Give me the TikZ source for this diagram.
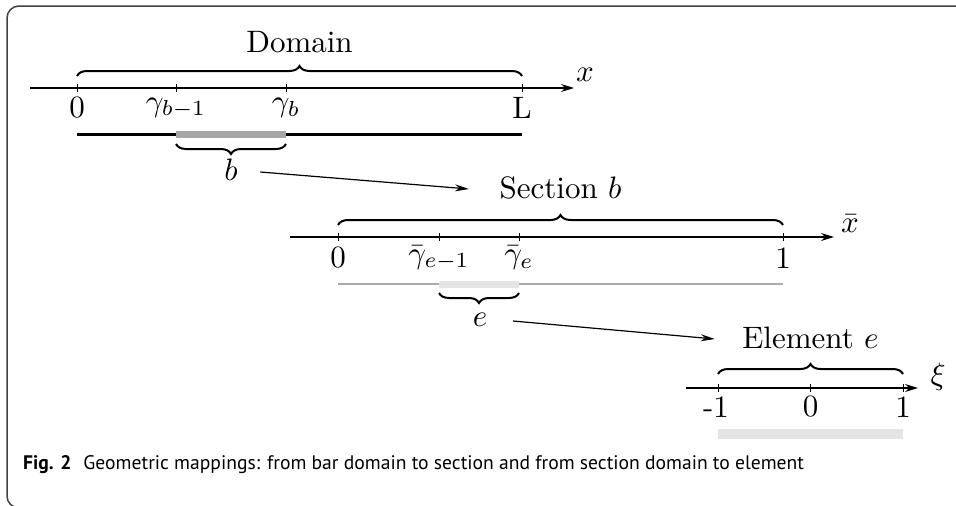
\documentclass[tikz,border=0pt]{standalone}
\usepackage{fontspec}
\newfontfamily\capfont{PT Sans}
\usetikzlibrary{arrows.meta,decorations.pathreplacing}
\begin{document}
\begin{tikzpicture}[x=1pt,y=1pt,
  axis/.style={line width=1.2pt,-{Stealth[length=13pt,width=8pt]}},
  tickmark/.style={line width=0.8pt},
  lbl/.style={font=\fontsize{10}{12}\selectfont,scale=3.1,transform shape,inner sep=0pt},
  brc/.style={decorate,decoration={brace,amplitude=10pt},line width=2pt},
  mapar/.style={line width=1.2pt,-{Stealth[length=14pt,width=7pt]}},
  frame/.style={draw=black!75,line width=1.5pt,rounded corners=12pt}
]
\useasboundingbox (0,0) rectangle (956,-506);
\begin{scope}
\clip (0,0) rectangle (956,-506);
\draw[frame] (970,-6) -- (7,-6) -- (7,-508) -- (40,-508);
\end{scope}

% ---------- Domain ----------
\coordinate (ds) at (30,-88);
\coordinate (de) at (574,-88);
\coordinate (d0) at (77,-88);
\coordinate (d1) at (176,-88);
\coordinate (d2) at (286,-88);
\coordinate (dL) at (522,-88);
\draw[axis] (ds) -- (de);
\node[lbl] (xlab) at (585,-75) {$x$};
\foreach \c in {d0,d1,d2,dL} \draw[tickmark] ([yshift=4pt]\c) -- ([yshift=-4pt]\c);
\node[lbl] (l0) at (77,-108) {0};
\node[lbl] (l1) at (176,-108) {$\gamma_{b-1}$};
\node[lbl] (l2) at (286,-108) {$\gamma_b$};
\node[lbl] (lL) at (522,-108) {L};
\draw[brc] ([yshift=12pt]d0) -- ([yshift=12pt]dL);
\node[lbl] (dom) at (299.5,-42) {Domain};
\coordinate (bar0) at (77,-134);
\coordinate (bar1) at (176,-134);
\coordinate (bar2) at (286,-134);
\coordinate (barL) at (522,-134);
\draw[line width=3pt] (bar0) -- (barL);
\draw[line width=7pt,black!35] (bar1) -- (bar2);
\draw[brc] ([yshift=-10pt]bar2) -- ([yshift=-10pt]bar1);
\node[lbl] (b) at (231,-170) {$b$};

% ---------- Section ----------
\coordinate (ss) at (290,-237);
\coordinate (se) at (834,-237);
\coordinate (s0) at (338,-237);
\coordinate (s1) at (439,-237);
\coordinate (s2) at (519,-237);
\coordinate (s3) at (783,-237);
\draw[axis] (ss) -- (se);
\node[lbl] (xblab) at (850,-224) {$\bar{x}$};
\foreach \c in {s0,s1,s2,s3} \draw[tickmark] ([yshift=4pt]\c) -- ([yshift=-4pt]\c);
\node[lbl] (m0) at (338,-258) {0};
\node[lbl] (m1) at (439,-258) {$\bar{\gamma}_{e-1}$};
\node[lbl] (m2) at (519,-258) {$\bar{\gamma}_e$};
\node[lbl] (m3) at (783,-258) {1};
\draw[brc] ([yshift=12pt]s0) -- ([yshift=12pt]s3);
\node[lbl] (sec) at (560.5,-188) {Section $b$};
\coordinate (sb0) at (338,-284);
\coordinate (sb1) at (439,-284);
\coordinate (sb2) at (519,-284);
\coordinate (sb3) at (783,-284);
\draw[line width=2.5pt,black!33] (sb0) -- (sb3);
\draw[line width=7pt,black!10] (sb1) -- (sb2);
\draw[brc] ([yshift=-9pt]sb2) -- ([yshift=-9pt]sb1);
\node[lbl] (e) at (480,-320) {$e$};

% ---------- Element ----------
\coordinate (es) at (686,-388);
\coordinate (ee) at (918,-388);
\coordinate (e0) at (718,-388);
\coordinate (e1) at (810.5,-388);
\coordinate (e2) at (903,-388);
\draw[axis] (es) -- (ee);
\node[lbl] (xilab) at (938,-377) {$\xi$};
\foreach \c in {e0,e1,e2} \draw[tickmark] ([yshift=4pt]\c) -- ([yshift=-4pt]\c);
\node[lbl] (n0) at (716,-407) {-1};
\node[lbl] (n1) at (810.5,-407) {0};
\node[lbl] (n2) at (903,-407) {1};
\draw[brc] ([yshift=14pt]e0) -- ([yshift=14pt]e2);
\node[lbl] (elem) at (810.5,-338) {Element $e$};
\coordinate (eb0) at (718,-434);
\coordinate (eb2) at (903,-434);
\draw[line width=10pt,black!10] (eb0) -- (eb2);

% ---------- mappings ----------
\draw[mapar] ([xshift=22pt,yshift=-2pt]b.east) -- ([xshift=-30pt,yshift=-1pt]sec.west);
\draw[mapar] ([xshift=25pt,yshift=-1pt]e.east) -- ([xshift=-27pt,yshift=-1pt]elem.west);

% ---------- caption ----------
\node[anchor=west,inner sep=0pt,font=\capfont\fontsize{19.6}{22}\selectfont] (cap) at (23,-465)
  {\textbf{Fig. 2}\hspace{12pt}Geometric mappings: from bar domain to section and from section domain to element};
\end{tikzpicture}
\end{document}
